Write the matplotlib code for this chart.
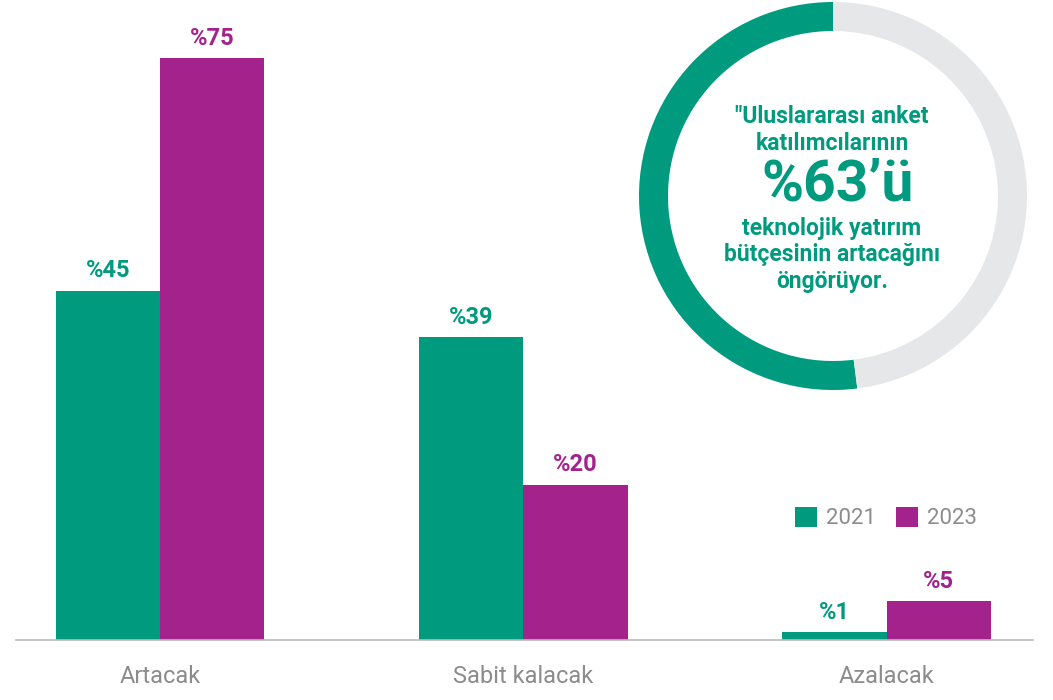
import matplotlib.pyplot as plt
import numpy as np

plt.rcParams['font.family'] = ['Roboto', 'DejaVu Sans']

categories = ["Artacak", "Sabit kalacak", "Azalacak"]
years = ["2021", "2023"]
values_2021 = [45, 39, 1]
values_2023 = [75, 20, 5]

# donut: share drawn as seen in the picture (green / grey)
donut_values = [52, 48]
donut_text_top = "\"Uluslararası anket\nkatılımcılarının"
donut_big = "%63’ü"
donut_text_bottom = "teknolojik yatırım\nbütçesinin artacağını\nöngörüyor."

GREEN = "#009A7F"
PURPLE = "#A4228B"
LIGHT = "#E6E7E8"
GREY_TXT = "#8C8C8C"

W, H = 1053, 700
fig = plt.figure(figsize=(W / 100, H / 100), dpi=100)

# bar chart
ax = fig.add_axes([16 / W, 60 / H, (1033 - 16) / W, (H - 60) / H])
x = np.arange(len(categories))
bw = 0.287
b1 = ax.bar(x - bw / 2, values_2021, bw, color=GREEN, label=years[0])
b2 = ax.bar(x + bw / 2, values_2023, bw, color=PURPLE, label=years[1])
ax.set_xlim(-0.397, 2.403)
ax.set_ylim(0, 640 / 7.76)

for bars, vals, col in [(b1, values_2021, GREEN), (b2, values_2023, PURPLE)]:
    for r, v in zip(bars, vals):
        ax.annotate(f"%{v}", (r.get_x() + r.get_width() / 2, v),
                    xytext=(0, 6), textcoords="offset points",
                    ha="center", va="bottom", fontsize=17,
                    fontweight="bold", color=col)

for s in ["top", "right", "left"]:
    ax.spines[s].set_visible(False)
ax.spines["bottom"].set_color("#BBBBBB")
ax.spines["bottom"].set_linewidth(1.2)
ax.set_yticks([])
ax.set_xticks(x)
ax.set_xticklabels(categories, fontsize=17, color=GREY_TXT)
ax.tick_params(axis="x", length=0, pad=18)

leg = fig.legend(handles=[b1, b2], labels=years, loc="center left",
                 bbox_to_anchor=(795 / W, 1 - 518 / H), ncol=2, frameon=False,
                 fontsize=16, handlelength=1.0, handleheight=1.0,
                 handletextpad=0.4, columnspacing=0.9, borderpad=0, borderaxespad=0)
for t in leg.get_texts():
    t.set_color(GREY_TXT)

# donut
cx, cy, r = 833, 196, 194
ax2 = fig.add_axes([(cx - r) / W, (H - cy - r) / H, 2 * r / W, 2 * r / H])
ax2.pie(donut_values, colors=[GREEN, LIGHT], startangle=90, counterclock=True,
        radius=1, wedgeprops=dict(width=29 / r, linewidth=0))
ax2.set_xlim(-1, 1)
ax2.set_ylim(-1, 1)
ax2.set_aspect("equal")
ax2.axis("off")

fig.text(832 / W, 1 - 130 / H, donut_text_top, ha="center", va="center",
         fontsize=16.5, fontweight="bold", color=GREEN, linespacing=1.2)
fig.text(838 / W, 1 - 185 / H, donut_big, ha="center", va="center",
         fontsize=41, fontweight="bold", color=GREEN)
fig.text(832 / W, 1 - 255 / H, donut_text_bottom, ha="center", va="center",
         fontsize=16.5, fontweight="bold", color=GREEN, linespacing=1.2)

fig.savefig("out.png", dpi=100, facecolor="white")
